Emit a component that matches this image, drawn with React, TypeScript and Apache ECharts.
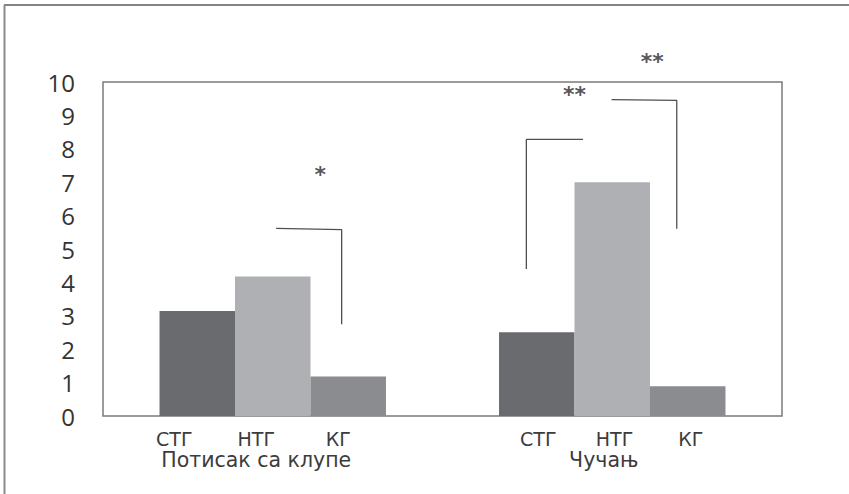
import React, { useEffect, useRef } from 'react';
import * as echarts from 'echarts';

// Exercise categories and group names
const categories = ['Потисак са клупе', 'Чучањ'];
const groups = ['СТГ', 'НТГ', 'КГ'];

// Bar values per group
const stgValues = [3.14, 2.51];
const ntgValues = [4.18, 7.0];
const kgValues = [1.18, 0.89];

// Y axis range
const yMin = 0;
const yMax = 10;
const yInterval = 1;

// Significance brackets, in (category position, value) units: category i spans [i, i+1]
const bracketBench = [[0.51, 5.62], [0.703, 5.58], [0.703, 2.75]];
const bracketSquatLeft = [[1.414, 8.28], [1.247, 8.28], [1.247, 4.4]];
const bracketSquatRight = [[1.498, 9.47], [1.69, 9.45], [1.69, 5.61]];
const sigLabels = ['*', '**', '**'];
const sigPositions = [[0.64, 7.22], [1.389, 9.62], [1.618, 10.62]];

const barColors = ['#6a6b6f', '#afb0b4', '#8b8c90'];

export default function App() {
  const ref = useRef<HTMLDivElement>(null);

  useEffect(() => {
    if (!ref.current) return;
    const chart = echarts.init(ref.current, undefined, { renderer: 'svg' });

    const labelBase = {
      fontSize: 19,
      fontFamily: 'DejaVu Sans',
      color: '#3c3c3c',
      lineHeight: 21,
      align: 'center' as const,
    };

    const seriesValues = [stgValues, ntgValues, kgValues];

    const option: any = {
      animation: false,
      backgroundColor: '#ffffff',
      grid: {
        left: 103,
        top: 82,
        right: 67,
        bottom: 78,
        show: true,
        borderColor: '#7b7b7b',
        borderWidth: 1.5,
        backgroundColor: 'transparent',
      },
      xAxis: [
        {
          type: 'category',
          data: categories,
          axisLine: { show: false },
          axisTick: { show: false },
          axisLabel: {
            margin: 12,
            interval: 0,
            formatter: (value: string, index: number) => {
              if (index === 0) {
                return (
                  groups.map((g) => `{s0|${g}}`).join('') +
                  '{sp0| }\n' +
                  `{n|${value}}{sp0| }`
                );
              }
              return (
                '{sp1a| }' +
                groups.map((g) => `{s1|${g}}`).join('') +
                '\n' +
                `{n|${value}}{sp1b| }`
              );
            },
            rich: {
              s0: { ...labelBase, width: 82 },
              s1: { ...labelBase, width: 76.25 },
              sp0: { ...labelBase, width: 33 },
              sp1a: { ...labelBase, width: 4.5 },
              sp1b: { ...labelBase, width: 17 },
              n: { ...labelBase, fontSize: 20.5 },
            },
          },
        },
        {
          type: 'value',
          min: 0,
          max: categories.length,
          show: false,
        },
      ],
      yAxis: {
        type: 'value',
        min: yMin,
        max: yMax,
        interval: yInterval,
        splitLine: { show: false },
        axisLine: { show: false },
        axisTick: { show: false },
        axisLabel: {
          fontSize: 24,
          fontFamily: 'Open Sans',
          color: '#333333',
          margin: 28,
        },
      },
      series: [
        ...groups.map((g, i) => ({
          name: g,
          type: 'bar',
          xAxisIndex: 0,
          data: seriesValues[i],
          barGap: '0%',
          barCategoryGap: '33.3%',
          itemStyle: { color: barColors[i] },
          silent: true,
        })),
        ...[bracketBench, bracketSquatLeft, bracketSquatRight].map((b) => ({
          type: 'line',
          xAxisIndex: 1,
          data: b,
          symbol: 'none',
          lineStyle: { color: '#505050', width: 1.3 },
          silent: true,
          z: 5,
        })),
        {
          type: 'scatter',
          xAxisIndex: 1,
          symbolSize: 1,
          itemStyle: { color: 'rgba(0,0,0,0)' },
          clip: false,
          silent: true,
          z: 6,
          data: sigPositions.map((p, i) => ({ name: sigLabels[i], value: p })),
          label: {
            show: true,
            position: 'inside',
            formatter: (p: any) => p.name,
            fontSize: 22,
            fontWeight: 'bold',
            fontFamily: 'DejaVu Sans',
            color: '#2a2a2a',
          },
        },
      ],
      graphic: [
        {
          type: 'line',
          shape: { x1: 4, y1: 5, x2: 849, y2: 5 },
          style: { stroke: '#5a5a5a', lineWidth: 1.5 },
          silent: true,
        },
        {
          type: 'line',
          shape: { x1: 4.5, y1: 5, x2: 4.5, y2: 494 },
          style: { stroke: '#8a8a8a', lineWidth: 2 },
          silent: true,
        },
      ],
    };

    chart.setOption(option);
    return () => {
      chart.dispose();
    };
  }, []);

  return (
    <div
      ref={ref}
      style={{ position: 'fixed', left: 0, top: 0, width: 849, height: 494 }}
    />
  );
}
